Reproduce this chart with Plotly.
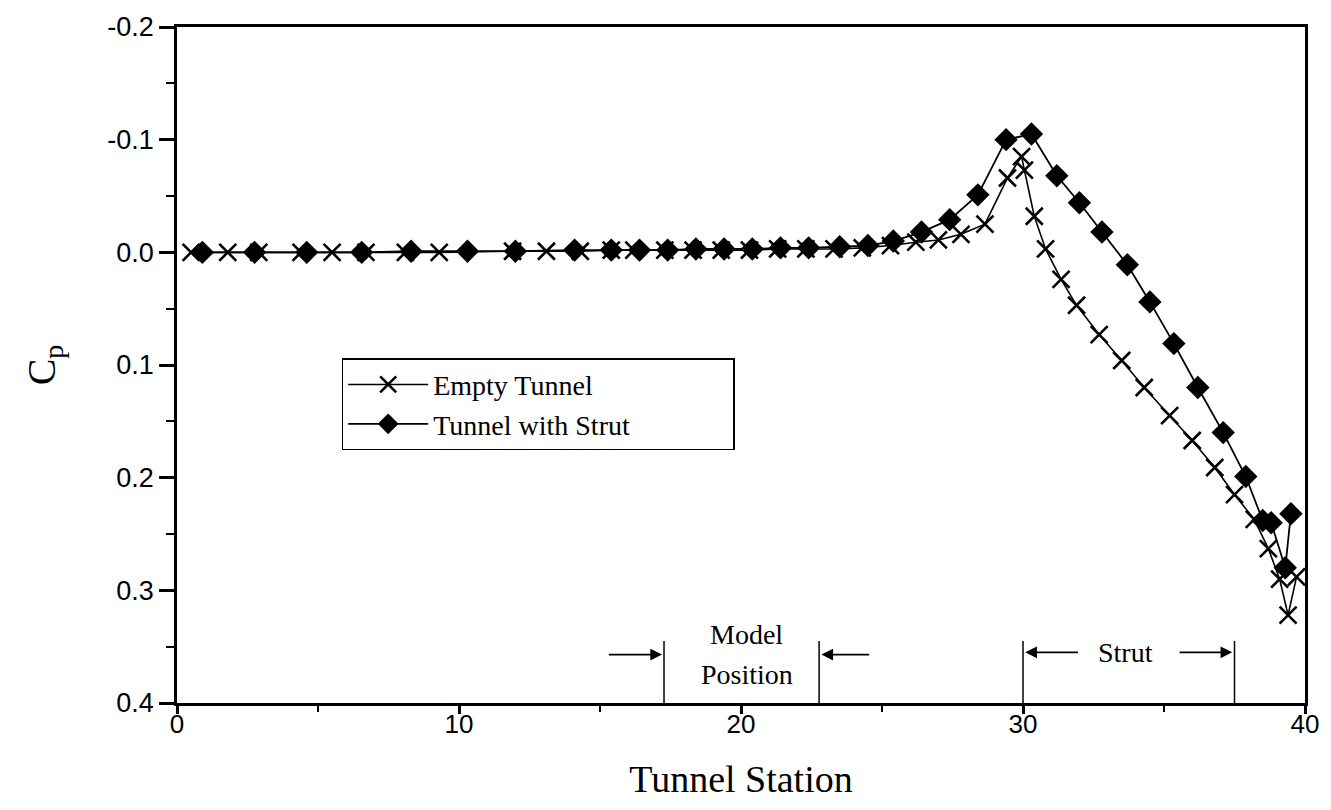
import plotly.graph_objects as go

# Empty Tunnel (x markers)
empty_x = [0.5, 1.8, 2.9, 4.4, 5.5, 6.7, 8.1, 9.3, 11.9, 13.1, 14.3, 15.4, 16.2, 17.3, 18.3,
           19.3, 20.3, 21.3, 22.3, 23.3, 24.3, 25.3, 26.2, 27.0, 27.8, 28.65, 29.45, 29.95,
           30.05, 30.4, 30.8, 31.35, 31.9, 32.7, 33.5, 34.3, 35.2, 36.0, 36.8, 37.5, 38.2,
           38.7, 39.1, 39.4, 39.7]
empty_cp = [0.0, 0.0, 0.0, 0.0, 0.0, 0.0, 0.0, 0.0, -0.001, -0.001, -0.001, -0.002, -0.002,
            -0.002, -0.002, -0.002, -0.002, -0.003, -0.003, -0.003, -0.004, -0.006, -0.009,
            -0.011, -0.016, -0.025, -0.066, -0.085, -0.073, -0.032, -0.003, 0.024, 0.047,
            0.073, 0.096, 0.12, 0.145, 0.167, 0.191, 0.215, 0.237, 0.263, 0.29, 0.322, 0.288]

# Tunnel with Strut (filled diamonds)
strut_x = [0.9, 2.75, 4.6, 6.55, 8.3, 10.3, 12.0, 14.1, 15.4, 16.4, 17.4, 18.4, 19.4, 20.4,
           21.4, 22.4, 23.5, 24.5, 25.4, 26.4, 27.4, 28.4, 29.4, 30.3, 31.2, 32.0, 32.8, 33.7,
           34.5, 35.35, 36.2, 37.1, 37.9, 38.5, 38.8, 39.3, 39.5]
strut_cp = [0.0, 0.0, 0.0, 0.0, -0.001, -0.001, -0.001, -0.002, -0.002, -0.002, -0.002,
            -0.003, -0.003, -0.003, -0.004, -0.004, -0.005, -0.006, -0.010, -0.018, -0.029,
            -0.051, -0.100, -0.105, -0.068, -0.044, -0.018, 0.011, 0.044, 0.081, 0.120,
            0.160, 0.199, 0.238, 0.240, 0.280, 0.232]

x_ticks = [0, 10, 20, 30, 40]
y_ticks = [-0.2, -0.1, 0.0, 0.1, 0.2, 0.3, 0.4]
y_ticktext = ["-0.2", "-0.1", "0.0", "0.1", "0.2", "0.3", "0.4"]
y_minor = [-0.15, -0.05, 0.05, 0.15, 0.25, 0.35]
x_minor = [5, 15, 25, 35]

# region markers (tunnel stations)
model_start, model_end = 17.27, 22.77
strut_start, strut_end = 30.0, 37.5

serif = "Liberation Serif"
sans = "Liberation Sans"
pad = "\u00a0" * 14

fig = go.Figure()
fig.add_trace(go.Scatter(
    x=empty_x, y=empty_cp, mode="lines+markers", name="Empty Tunnel",
    line=dict(color="black", width=1.6),
    marker=dict(symbol="x-thin-open", size=17, color="black", line=dict(width=2.6, color="black")),
))
fig.add_trace(go.Scatter(
    x=strut_x, y=strut_cp, mode="lines+markers", name="Tunnel with Strut" + pad,
    line=dict(color="black", width=1.8),
    marker=dict(symbol="diamond", size=18, color="black", line=dict(width=0)),
))

shapes = []
line_top = 0.345
for xv in [model_start, model_end, strut_start, strut_end]:
    shapes.append(dict(type="line", xref="x", yref="y", x0=xv, x1=xv, y0=line_top, y1=0.4,
                       line=dict(color="black", width=1.5)))

annotations = []
def arrow(x_tail, x_head, yv):
    annotations.append(dict(x=x_head, y=yv, ax=x_tail, ay=yv, xref="x", yref="y",
                            axref="x", ayref="y", showarrow=True, arrowhead=2,
                            arrowsize=1.3, arrowwidth=1.8, arrowcolor="black", text=""))

arrow(15.26, 17.2, 0.357)
arrow(24.6, 22.85, 0.357)
arrow(32.0, 30.08, 0.355)
arrow(35.5, 37.42, 0.355)

annotations.append(dict(x=20.2, y=0.339, xref="x", yref="y", text="Model", showarrow=False,
                        font=dict(family=serif, size=28, color="black")))
annotations.append(dict(x=20.2, y=0.3746, xref="x", yref="y", text="Position", showarrow=False,
                        font=dict(family=serif, size=28, color="black")))
annotations.append(dict(x=33.65, y=0.355, xref="x", yref="y", text="Strut", showarrow=False,
                        font=dict(family=serif, size=28, color="black")))

fig.update_layout(
    width=1331, height=810,
    margin=dict(l=177, r=19, t=22, b=107),
    paper_bgcolor="white", plot_bgcolor="white",
    showlegend=True,
    legend=dict(x=0.146, y=0.51, xanchor="left", yanchor="top",
                bordercolor="black", borderwidth=1.5, bgcolor="white",
                font=dict(family=serif, size=28, color="black"),
                itemwidth=80, tracegroupgap=0),
    shapes=shapes, annotations=annotations,
)

fig.update_xaxes(
    range=[0, 40], tickmode="array", tickvals=x_ticks,
    showgrid=False, zeroline=False,
    showline=True, linecolor="black", linewidth=2.5, mirror=True,
    ticks="outside", ticklen=8, tickwidth=2.5, tickcolor="black",
    ticklabelstandoff=-12,
    tickfont=dict(family=sans, size=26, color="black"),
    minor=dict(tickmode="array", tickvals=x_minor, ticks="outside", ticklen=6,
               tickwidth=2, tickcolor="black", showgrid=False),
    title=dict(text="Tunnel Station", font=dict(family=serif, size=38, color="black"), standoff=28),
)
fig.update_yaxes(
    range=[0.4, -0.2], tickmode="array", tickvals=y_ticks, ticktext=y_ticktext,
    showgrid=False, zeroline=False,
    showline=True, linecolor="black", linewidth=2.5, mirror=True,
    ticks="outside", ticklen=15, tickwidth=2.5, tickcolor="black",
    tickfont=dict(family=sans, size=27, color="black"),
    minor=dict(tickmode="array", tickvals=y_minor, ticks="outside", ticklen=8,
               tickwidth=2, tickcolor="black", showgrid=False),
    title=dict(text="C<sub>p</sub>", font=dict(family=serif, size=40, color="black"), standoff=40),
)

fig.write_html("out.html")
